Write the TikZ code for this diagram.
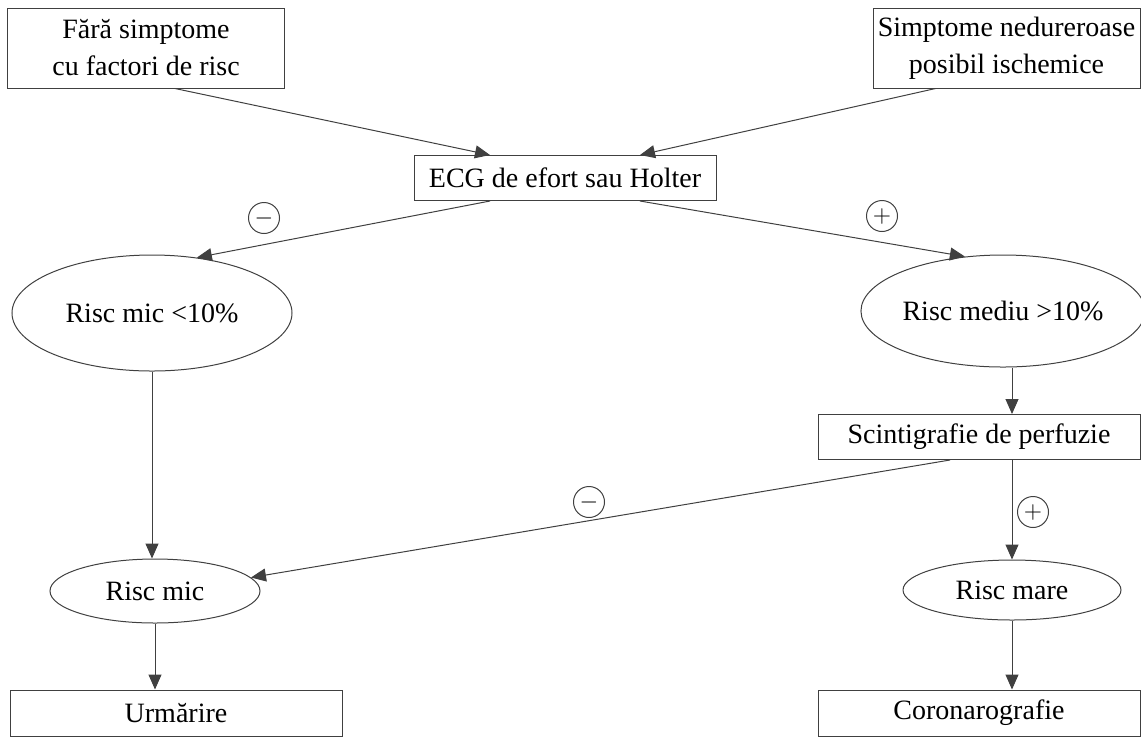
\documentclass[tikz,border=0pt]{standalone}
\usepackage{fontspec}
\setmainfont{Liberation Serif}
\usetikzlibrary{shapes.geometric,arrows.meta,calc}

\tikzset{
	box/.style={draw=black!75, line width=0.5pt, rectangle, align=center, inner sep=2pt},
	oval/.style={draw=black!75, line width=0.5pt, ellipse, inner sep=0pt},
	sign/.style={draw=black!75, line width=0.5pt, circle, minimum size=15.5pt, inner sep=0pt, font=\large},
	arr/.style={draw=black!75, line width=0.5pt, -{Triangle[length=7.5pt,width=6.5pt]}}
}

\begin{document}
\begin{tikzpicture}[x=0.5pt, y=-0.5pt, font=\fontsize{14}{18.5}\selectfont]
\useasboundingbox (0,0) rectangle (1141,736);
\node[box, minimum width=138.5pt, minimum height=40pt] (fara) at (146,48) {Fără simptome\\cu factori de risc};
\node[box, minimum width=133.5pt, minimum height=40pt] (simpt) at (1006.5,48) {Simptome nedureroase\\posibil ischemice};
\node[box, minimum width=151pt, minimum height=22.5pt] (ecg) at (565,178) {ECG de efort sau Holter};
\node[oval, minimum width=140pt, minimum height=58pt] (rmic10) at (152,313) {Risc mic <10\%};
\node[oval, minimum width=138pt, minimum height=56pt] (rmed) at (1003,311) {Risc mediu >10\%};
\node[box, minimum width=161pt, minimum height=22.5pt] (scint) at (979,437) {Scintigrafie de perfuzie};
\node[oval, minimum width=105pt, minimum height=32pt] (rmic) at (155,591) {Risc mic};
\node[oval, minimum width=109pt, minimum height=30pt] (rmare) at (1012,590) {Risc mare};
\node[box, minimum width=166pt, minimum height=23pt] (urm) at (176,713) {Urmărire};
\node[box, minimum width=161pt, minimum height=23pt] (coro) at (979,713) {Coronarografie};

\node[sign] (sg1) at (264,218) {$-$};
\node[sign] (sg2) at (882,216) {$+$};
\node[sign] (sg3) at (589,502) {$-$};
\node[sign] (sg4) at (1033,512) {$+$};

\draw[arr] ($(fara.south)+(29,0)$) -- ($(ecg.north)+(-75,0)$);
\draw[arr] ($(simpt.south)+(-71,0)$) -- ($(ecg.north)+(75,0)$);
\draw[arr] ($(ecg.south)+(-75,0)$) -- (rmic10.51);
\draw[arr] ($(ecg.south)+(75,0)$) -- (rmed.125);
\draw[arr] (rmic10.south) -- (rmic10.south |- rmic.north);
\draw[arr] (rmed.south -| rmare.north) -- (scint.north -| rmare.north);
\draw[arr] ($(scint.south)+(-29,0)$) -- (rmic.8);
\draw[arr] (scint.south -| rmare.north) -- (rmare.north);
\draw[arr] (rmic.south) -- (urm.north -| rmic.south);
\draw[arr] (rmare.south) -- (coro.north -| rmare.south);
\end{tikzpicture}
\end{document}
